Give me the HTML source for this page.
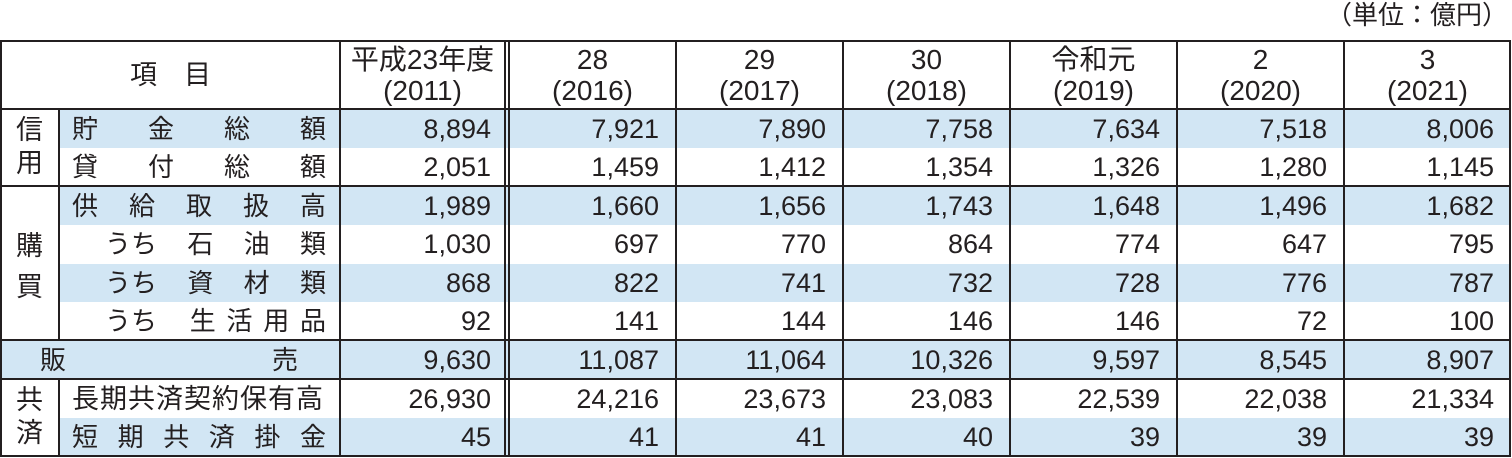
<!DOCTYPE html>
<html><head><meta charset="utf-8"><style>
body{margin:0;width:1512px;height:458px;background:#fff;position:relative;overflow:hidden;font-family:"Liberation Sans","Noto Sans CJK JP",sans-serif;color:#231f20}
.a{position:absolute}
.bg{position:absolute;background:#d2e6f4;height:38px}
.hl{position:absolute;height:2px;background:#231f20}
.vl{position:absolute;width:2px;background:#231f20}
.n{position:absolute;font-size:27px;text-align:right;line-height:38px}
.t{position:absolute;font-size:26px;line-height:38px;display:flex;justify-content:space-between}
.h{position:absolute;font-size:28px;text-align:center;line-height:31px}
</style></head><body>
<div class="a" style="right:4px;top:0;font-size:26px;line-height:30px">（単位：億円）</div>
<div class="bg" style="left:59px;width:1450px;top:110px"></div>
<div class="bg" style="left:59px;width:1450px;top:187px"></div>
<div class="bg" style="left:59px;width:1450px;top:264px"></div>
<div class="bg" style="left:1px;width:1508px;top:341px"></div>
<div class="bg" style="left:59px;width:1450px;top:418px"></div>
<div class="hl" style="left:0;width:1511px;top:40px"></div>
<div class="hl" style="left:0;width:1511px;top:108px"></div>
<div class="hl" style="left:0;width:1511px;top:185px"></div>
<div class="hl" style="left:0;width:1511px;top:339px"></div>
<div class="hl" style="left:0;width:1511px;top:378px"></div>
<div class="hl" style="left:0;width:1511px;top:455px"></div>
<div class="vl" style="left:0;top:40px;height:417px"></div>
<div class="vl" style="left:58px;top:108px;height:232px"></div>
<div class="vl" style="left:58px;top:378px;height:78px"></div>
<div class="vl" style="left:339px;top:40px;height:417px"></div>
<div class="vl" style="left:504px;top:40px;height:417px"></div>
<div class="vl" style="left:508px;top:40px;height:417px"></div>
<div class="vl" style="left:675px;top:40px;height:417px"></div>
<div class="vl" style="left:842px;top:40px;height:417px"></div>
<div class="vl" style="left:1009px;top:40px;height:417px"></div>
<div class="vl" style="left:1176px;top:40px;height:417px"></div>
<div class="vl" style="left:1343px;top:40px;height:417px"></div>
<div class="vl" style="left:1509px;top:40px;height:417px"></div>
<div class="a" style="left:130px;top:58px;font-size:27px;line-height:34px">項　目</div>
<div class="h" style="left:341px;width:163px;top:44px">平成23年度<br>(2011)</div>
<div class="h" style="left:510px;width:165px;top:44px">28<br>(2016)</div>
<div class="h" style="left:677px;width:165px;top:44px">29<br>(2017)</div>
<div class="h" style="left:844px;width:165px;top:44px">30<br>(2018)</div>
<div class="h" style="left:1011px;width:165px;top:44px">令和元<br>(2019)</div>
<div class="h" style="left:1178px;width:165px;top:44px">2<br>(2020)</div>
<div class="h" style="left:1345px;width:165px;top:44px">3<br>(2021)</div>
<div class="a" style="left:16px;top:114px;font-size:27px;line-height:33px">信<br>用</div>
<div class="a" style="left:16px;top:226px;font-size:27px;line-height:41px">購<br>買</div>
<div class="a" style="left:16px;top:384px;font-size:27px;line-height:33px">共<br>済</div>
<div class="t" style="left:72px;width:254px;top:110px"><span>貯</span><span>金</span><span>総</span><span>額</span></div>
<div class="t" style="left:72px;width:254px;top:148px"><span>貸</span><span>付</span><span>総</span><span>額</span></div>
<div class="t" style="left:72px;width:254px;top:187px"><span>供</span><span>給</span><span>取</span><span>扱</span><span>高</span></div>
<div class="t" style="left:105px;width:221px;top:225px"><span>うち</span><span>石</span><span>油</span><span>類</span></div>
<div class="t" style="left:105px;width:221px;top:264px"><span>うち</span><span>資</span><span>材</span><span>類</span></div>
<div class="t" style="left:105px;width:221px;top:302px"><span>うち</span><span style="margin-left:22px">生</span><span>活</span><span>用</span><span>品</span></div>
<div class="t" style="left:40px;width:258px;top:341px"><span>販</span><span>売</span></div>
<div class="t" style="left:72px;width:256px;top:380px;font-size:27px;letter-spacing:1px"><span>長期共済契約保有高</span></div>
<div class="t" style="left:72px;width:254px;top:418px"><span>短</span><span>期</span><span>共</span><span>済</span><span>掛</span><span>金</span></div>
<div class="n" style="right:1021px;top:110px">8,894</div>
<div class="n" style="right:853px;top:110px">7,921</div>
<div class="n" style="right:686px;top:110px">7,890</div>
<div class="n" style="right:519px;top:110px">7,758</div>
<div class="n" style="right:352px;top:110px">7,634</div>
<div class="n" style="right:185px;top:110px">7,518</div>
<div class="n" style="right:18px;top:110px">8,006</div>
<div class="n" style="right:1021px;top:148px">2,051</div>
<div class="n" style="right:853px;top:148px">1,459</div>
<div class="n" style="right:686px;top:148px">1,412</div>
<div class="n" style="right:519px;top:148px">1,354</div>
<div class="n" style="right:352px;top:148px">1,326</div>
<div class="n" style="right:185px;top:148px">1,280</div>
<div class="n" style="right:18px;top:148px">1,145</div>
<div class="n" style="right:1021px;top:187px">1,989</div>
<div class="n" style="right:853px;top:187px">1,660</div>
<div class="n" style="right:686px;top:187px">1,656</div>
<div class="n" style="right:519px;top:187px">1,743</div>
<div class="n" style="right:352px;top:187px">1,648</div>
<div class="n" style="right:185px;top:187px">1,496</div>
<div class="n" style="right:18px;top:187px">1,682</div>
<div class="n" style="right:1021px;top:225px">1,030</div>
<div class="n" style="right:853px;top:225px">697</div>
<div class="n" style="right:686px;top:225px">770</div>
<div class="n" style="right:519px;top:225px">864</div>
<div class="n" style="right:352px;top:225px">774</div>
<div class="n" style="right:185px;top:225px">647</div>
<div class="n" style="right:18px;top:225px">795</div>
<div class="n" style="right:1021px;top:264px">868</div>
<div class="n" style="right:853px;top:264px">822</div>
<div class="n" style="right:686px;top:264px">741</div>
<div class="n" style="right:519px;top:264px">732</div>
<div class="n" style="right:352px;top:264px">728</div>
<div class="n" style="right:185px;top:264px">776</div>
<div class="n" style="right:18px;top:264px">787</div>
<div class="n" style="right:1021px;top:302px">92</div>
<div class="n" style="right:853px;top:302px">141</div>
<div class="n" style="right:686px;top:302px">144</div>
<div class="n" style="right:519px;top:302px">146</div>
<div class="n" style="right:352px;top:302px">146</div>
<div class="n" style="right:185px;top:302px">72</div>
<div class="n" style="right:18px;top:302px">100</div>
<div class="n" style="right:1021px;top:341px">9,630</div>
<div class="n" style="right:853px;top:341px">11,087</div>
<div class="n" style="right:686px;top:341px">11,064</div>
<div class="n" style="right:519px;top:341px">10,326</div>
<div class="n" style="right:352px;top:341px">9,597</div>
<div class="n" style="right:185px;top:341px">8,545</div>
<div class="n" style="right:18px;top:341px">8,907</div>
<div class="n" style="right:1021px;top:380px">26,930</div>
<div class="n" style="right:853px;top:380px">24,216</div>
<div class="n" style="right:686px;top:380px">23,673</div>
<div class="n" style="right:519px;top:380px">23,083</div>
<div class="n" style="right:352px;top:380px">22,539</div>
<div class="n" style="right:185px;top:380px">22,038</div>
<div class="n" style="right:18px;top:380px">21,334</div>
<div class="n" style="right:1021px;top:418px">45</div>
<div class="n" style="right:853px;top:418px">41</div>
<div class="n" style="right:686px;top:418px">41</div>
<div class="n" style="right:519px;top:418px">40</div>
<div class="n" style="right:352px;top:418px">39</div>
<div class="n" style="right:185px;top:418px">39</div>
<div class="n" style="right:18px;top:418px">39</div>
</body></html>
